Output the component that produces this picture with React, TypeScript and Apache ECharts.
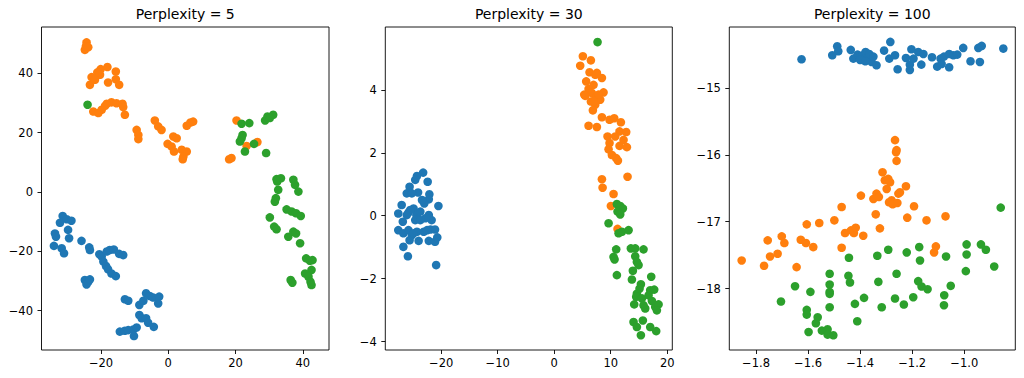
import React, { useEffect, useRef } from "react";
import * as echarts from "echarts";

type P = [number, number];

const titles = ["Perplexity = 5", "Perplexity = 30", "Perplexity = 100"];
const colors = ["#1f77b4", "#ff7f0e", "#2ca02c"];

// Panel 1 (perplexity 5)
const p1Blue: P[] = [
  [-31.4, -8.1], [-32.2, -10.4], [-30.2, -9.2], [-28.8, -9.7], [-33.7, -14.0], [-33.4, -15.1],
  [-29.8, -12.8], [-29.5, -15.6], [-34.0, -18.2], [-31.7, -19.0], [-31.0, -20.7], [-25.8, -16.5],
  [-23.5, -18.7], [-23.3, -19.6], [-20.5, -21.0], [-19.8, -21.8], [-18.3, -20.1], [-17.4, -19.6],
  [-16.2, -19.4], [-14.6, -20.9], [-13.4, -21.3], [-19.3, -23.5], [-18.5, -25.0], [-17.9, -26.1],
  [-16.9, -27.5], [-15.6, -28.4], [-24.8, -29.7], [-23.8, -30.3], [-24.3, -31.2], [-23.3, -29.5],
  [-12.9, -36.2], [-11.9, -36.7], [-8.6, -38.1], [-7.4, -36.7], [-6.6, -34.2], [-5.5, -35.1],
  [-4.5, -35.6], [-2.7, -35.3], [-3.0, -37.6], [-8.6, -41.5], [-7.9, -42.6], [-6.6, -42.6],
  [-6.0, -44.1], [-4.3, -45.5], [-14.4, -47.1], [-12.9, -46.8], [-11.9, -46.6], [-10.4, -46.4],
  [-9.4, -45.7], [-10.2, -48.6],
];
const p1Orange: P[] = [
  [-24.3, 50.4], [-24.5, 49.1], [-24.8, 47.9], [-23.8, 48.8], [-20.1, 41.4], [-18.1, 42.1],
  [-21.1, 40.3], [-15.6, 40.6], [-22.8, 38.7], [-20.3, 39.5], [-15.6, 38.0], [-23.3, 36.1],
  [-17.9, 36.9], [-14.6, 36.1], [-22.3, 27.1], [-19.8, 27.7], [-18.8, 29.0], [-16.9, 30.2],
  [-15.4, 29.9], [-13.6, 29.7], [-13.4, 28.6], [-18.3, 29.7], [-12.9, 26.0], [-20.8, 26.6],
  [-9.4, 20.9], [-8.9, 19.2], [-8.9, 17.8], [-4.0, 24.1], [-3.0, 22.1], [-2.0, 20.9],
  [1.5, 18.7], [2.5, 18.1], [-0.2, 16.2], [1.0, 15.3], [1.7, 13.6], [4.0, 14.2],
  [5.5, 13.6], [4.5, 11.9], [4.3, 11.0], [5.5, 22.3], [6.6, 23.4], [7.4, 23.7],
  [20.3, 24.1], [18.1, 11.0], [18.8, 11.4], [23.3, 15.5], [26.5, 16.8], [-21.8, 37.8],
];
const p1Green: P[] = [
  [-24.0, 29.4], [21.8, 23.0], [24.1, 23.2], [22.1, 19.2], [21.8, 18.1], [21.3, 17.0],
  [22.8, 13.6], [25.5, 16.2], [29.1, 13.1], [28.8, 24.1], [29.5, 25.4], [31.2, 26.0],
  [30.2, 24.9], [32.2, 4.3], [33.5, 4.6], [37.2, 4.1], [37.7, 2.4], [38.7, 0.1],
  [32.7, 0.7], [32.0, -2.1], [31.7, -3.3], [35.2, -5.9], [36.7, -6.6], [38.0, -7.2],
  [39.4, -8.1], [30.2, -8.6], [31.5, -11.7], [32.2, -12.6], [35.7, -15.1], [37.2, -13.4],
  [38.0, -14.0], [39.2, -17.3], [41.0, -22.4], [42.1, -23.2], [42.9, -23.0], [42.6, -26.3],
  [40.7, -27.5], [41.7, -28.6], [42.3, -30.3], [42.6, -31.4], [36.4, -29.7], [36.9, -30.6],
  [32.4, 3.5],
];

// Panel 2 (perplexity 30)
const p2Blue: P[] = [
  [-23.2, 1.37], [-24.3, 1.26], [-24.6, 1.14], [-22.4, 1.08], [-25.6, 0.92], [-26.1, 0.71],
  [-24.1, 0.74], [-22.1, 0.68], [-22.2, 0.52], [-23.0, 0.39], [-27.0, 0.34], [-20.5, 0.31],
  [-27.6, 0.07], [-25.8, 0.1], [-24.9, 0.23], [-24.4, 0.02], [-23.7, 0.13], [-22.2, 0.02],
  [-26.8, -0.19], [-24.6, -0.14], [-21.7, -0.14], [-27.6, -0.46], [-26.7, -0.56], [-25.8, -0.46],
  [-25.2, -0.62], [-24.3, -0.51], [-23.1, -0.51], [-21.9, -0.44], [-21.1, -0.44], [-25.6, -0.78],
  [-24.0, -0.8], [-22.2, -0.8], [-21.1, -0.83], [-20.7, -0.69], [-26.7, -0.99], [-25.9, -1.29],
  [-20.9, -1.57], [-25.2, 0.71], [-23.4, 0.5], [-25.5, 0.18], [-22.8, -0.08], [-23.7, -0.14],
  [-24.9, -0.56], [-22.5, -0.46], [-26.1, 0.02],
];
const p2Orange: P[] = [
  [5.07, 5.07], [4.6, 4.77], [6.49, 4.94], [6.25, 4.56], [7.26, 4.48], [8.44, 4.38],
  [5.66, 4.27], [6.96, 4.16], [6.08, 4.03], [5.31, 3.85], [6.67, 3.9], [7.55, 3.79],
  [8.73, 3.92], [8.14, 3.69], [6.49, 3.63], [7.26, 3.53], [6.84, 3.35], [8.44, 3.13],
  [6.08, 2.86], [7.55, 2.82], [9.79, 3.05], [10.62, 3.1], [11.8, 2.97], [11.56, 2.68],
  [12.74, 2.66], [9.44, 2.52], [10.8, 2.52], [12.27, 2.41], [11.56, 2.22], [12.86, 2.18],
  [9.79, 2.31], [9.62, 2.11], [10.21, 1.93], [10.97, 1.83], [11.27, 1.75], [8.44, 1.16],
  [12.98, 1.24], [8.56, 0.89], [10.5, 0.69], [10.03, 0.31], [11.21, -0.42], [5.49, 3.81],
  [7.55, 4.54], [7.85, 3.85], [6.96, 3.65],
];
const p2Green: P[] = [
  [7.67, 5.52], [11.09, 0.37], [11.68, 0.31], [12.15, 0.23], [11.21, 0.13], [11.68, 0.04],
  [9.62, -0.24], [11.39, -0.56], [11.98, -0.51], [13.16, -0.46], [10.97, -1.07], [10.5, -1.31],
  [10.68, -1.39], [13.57, -1.04], [14.34, -1.04], [15.81, -1.07], [14.34, -1.29], [14.63, -1.47],
  [14.93, -1.57], [13.92, -1.75], [11.09, -1.89], [13.75, -2.03], [17.17, -1.94], [15.34, -2.18],
  [15.1, -2.32], [14.63, -2.48], [16.99, -2.37], [17.7, -2.35], [14.51, -2.58], [15.52, -2.63],
  [16.7, -2.53], [17.29, -2.71], [14.16, -2.82], [15.81, -2.85], [16.11, -2.95], [17.88, -2.9],
  [18.47, -2.82], [18.17, -3.01], [14.04, -3.38], [15.69, -3.33], [14.63, -3.54], [16.99, -3.54],
  [15.34, -3.8], [18.05, -3.67],
];

// Panel 3 (perplexity 100)
const p3Blue: P[] = [
  [-1.625, -14.57], [-1.488, -14.376], [-1.484, -14.45], [-1.507, -14.51], [-1.436, -14.43],
  [-1.426, -14.56], [-1.41, -14.5], [-1.401, -14.55], [-1.39, -14.51], [-1.379, -14.46],
  [-1.371, -14.56], [-1.365, -14.49], [-1.356, -14.61], [-1.349, -14.53], [-1.337, -14.66],
  [-1.308, -14.44], [-1.288, -14.56], [-1.284, -14.31], [-1.266, -14.51], [-1.256, -14.72],
  [-1.224, -14.55], [-1.203, -14.42], [-1.209, -14.65], [-1.209, -14.73], [-1.195, -14.56],
  [-1.177, -14.46], [-1.165, -14.65], [-1.157, -14.49], [-1.124, -14.54], [-1.104, -14.68],
  [-1.091, -14.56], [-1.087, -14.64], [-1.078, -14.53], [-1.058, -14.49], [-1.058, -14.69],
  [-1.042, -14.51], [-1.027, -14.5], [-1.004, -14.4], [-0.976, -14.6], [-0.946, -14.4],
  [-0.94, -14.61], [-0.933, -14.37], [-0.85, -14.41], [-1.4, -14.58], [-1.38, -14.6],
];
const p3Orange: P[] = [
  [-1.855, -17.58], [-1.769, -17.66], [-1.755, -17.28], [-1.746, -17.52], [-1.717, -17.48],
  [-1.701, -17.22], [-1.691, -17.32], [-1.644, -17.68], [-1.628, -17.27], [-1.608, -17.32],
  [-1.605, -17.04], [-1.58, -17.38], [-1.557, -17.02], [-1.499, -16.98], [-1.458, -17.17],
  [-1.435, -17.13], [-1.424, -17.17], [-1.417, -17.09], [-1.388, -17.21], [-1.471, -17.39],
  [-1.471, -16.78], [-1.397, -16.61], [-1.349, -16.66], [-1.34, -16.89], [-1.337, -16.58],
  [-1.324, -17.1], [-1.328, -16.63], [-1.314, -16.26], [-1.305, -16.38], [-1.298, -16.51],
  [-1.292, -16.36], [-1.289, -16.71], [-1.285, -16.41], [-1.279, -16.68], [-1.275, -16.74],
  [-1.266, -15.78], [-1.262, -15.96], [-1.26, -15.93], [-1.26, -16.09], [-1.257, -16.72],
  [-1.253, -16.58], [-1.247, -16.56], [-1.224, -16.47], [-1.219, -16.94], [-1.193, -16.77],
  [-1.145, -16.98], [-1.116, -17.46], [-1.109, -17.37], [-1.072, -16.92],
];
const p3Green: P[] = [
  [-1.704, -18.195], [-1.65, -17.965], [-1.605, -18.32], [-1.605, -18.39], [-1.598, -18.65],
  [-1.591, -18.05], [-1.57, -18.52], [-1.563, -18.43], [-1.547, -18.63], [-1.525, -18.61],
  [-1.525, -18.69], [-1.503, -18.7], [-1.517, -17.78], [-1.517, -17.94], [-1.517, -18.05],
  [-1.517, -18.08], [-1.517, -18.28], [-1.443, -17.54], [-1.445, -17.81], [-1.439, -17.91],
  [-1.42, -18.23], [-1.411, -18.49], [-1.385, -18.14], [-1.334, -17.51], [-1.33, -17.9],
  [-1.317, -18.28], [-1.292, -17.42], [-1.266, -18.15], [-1.26, -17.78], [-1.232, -18.24],
  [-1.221, -17.46], [-1.196, -18.13], [-1.173, -17.38], [-1.17, -17.58], [-1.177, -17.89],
  [-1.164, -17.97], [-1.141, -18.01], [-1.077, -18.1], [-1.078, -18.25], [-1.07, -17.52],
  [-1.052, -17.96], [-0.991, -17.34], [-0.991, -17.49], [-0.994, -17.74], [-0.936, -17.34],
  [-0.917, -17.42], [-0.885, -17.67], [-0.86, -16.79],
];

// Tick values and labels
const p1XTicks = [-20, 0, 20, 40];
const p1XLabels = ["−20", "0", "20", "40"];
const p1YTicks = [-40, -20, 0, 20, 40];
const p1YLabels = ["−40", "−20", "0", "20", "40"];
const p2XTicks = [-20, -10, 0, 10, 20];
const p2XLabels = ["−20", "−10", "0", "10", "20"];
const p2YTicks = [-4, -2, 0, 2, 4];
const p2YLabels = ["−4", "−2", "0", "2", "4"];
const p3XTicks = [-1.8, -1.6, -1.4, -1.2, -1.0];
const p3XLabels = ["−1.8", "−1.6", "−1.4", "−1.2", "−1.0"];
const p3YTicks = [-18, -17, -16, -15];
const p3YLabels = ["−18", "−17", "−16", "−15"];

const panels = [
  { data: [p1Blue, p1Orange, p1Green], xr: [-37.7, 47.8], yr: [-53.3, 55.6], xt: p1XTicks, xl: p1XLabels, yt: p1YTicks, yl: p1YLabels, left: 41.5, width: 287.5 },
  { data: [p2Blue, p2Orange, p2Green], xr: [-29.9, 20.9], yr: [-4.27, 6.0], xt: p2XTicks, xl: p2XLabels, yt: p2YTicks, yl: p2YLabels, left: 385.3, width: 287 },
  { data: [p3Blue, p3Orange, p3Green], xr: [-1.9025, -0.804], yr: [-18.92, -14.087], xt: p3XTicks, xl: p3XLabels, yt: p3YTicks, yl: p3YLabels, left: 729.3, width: 286 },
];

const TOP = 27;
const HEIGHT = 323;
const FONT = "DejaVu Sans";

function labelFor(ticks: number[], labels: string[]) {
  return (v: number) => {
    for (let i = 0; i < ticks.length; i++) {
      if (Math.abs(ticks[i] - v) < 1e-6) return labels[i];
    }
    return "";
  };
}

export default function App() {
  const ref = useRef<HTMLDivElement>(null);
  useEffect(() => {
    document.body.style.margin = "0";
    if (!ref.current) return;
    const chart = echarts.init(ref.current, undefined, { renderer: "svg" });
    const grid: any[] = [];
    const xAxis: any[] = [];
    const yAxis: any[] = [];
    const series: any[] = [];
    const graphic: any[] = [];
    panels.forEach((p, i) => {
      grid.push({ left: p.left, top: TOP, width: p.width, height: HEIGHT, show: true, borderColor: "#000", borderWidth: 0.9, backgroundColor: "#fff" });
      xAxis.push({
        type: "value", gridIndex: i, min: p.xr[0], max: p.xr[1], position: "bottom",
        splitLine: { show: false }, axisLine: { show: false, onZero: false },
        axisTick: { show: true, length: 4, lineStyle: { color: "#000", width: 0.9 }, customValues: p.xt },
        axisLabel: { customValues: p.xt, formatter: labelFor(p.xt, p.xl), color: "#000", fontFamily: FONT, fontSize: 11.5, margin: 7 },
      });
      yAxis.push({
        type: "value", gridIndex: i, min: p.yr[0], max: p.yr[1], position: "left",
        splitLine: { show: false }, axisLine: { show: false, onZero: false },
        axisTick: { show: true, length: 4, lineStyle: { color: "#000", width: 0.9 }, customValues: p.yt },
        axisLabel: { customValues: p.yt, formatter: labelFor(p.yt, p.yl), color: "#000", fontFamily: FONT, fontSize: 11.5, margin: 8.5 },
      });
      p.data.forEach((d, k) => {
        series.push({
          type: "scatter", xAxisIndex: i, yAxisIndex: i, data: d, symbol: "circle", symbolSize: 8.6,
          itemStyle: { color: colors[k], opacity: 1 }, emphasis: { disabled: true }, silent: true,
        });
      });
      graphic.push({
        type: "text", x: p.left + p.width / 2, y: 14,
        style: { text: titles[i], fill: "#000", font: `14px ${FONT}`, textAlign: "center", textVerticalAlign: "middle" },
      });
    });
    chart.setOption({ animation: false, backgroundColor: "#fff", grid, xAxis, yAxis, series, graphic });
    return () => chart.dispose();
  }, []);
  return <div ref={ref} style={{ width: 1024, height: 378 }} />;
}
